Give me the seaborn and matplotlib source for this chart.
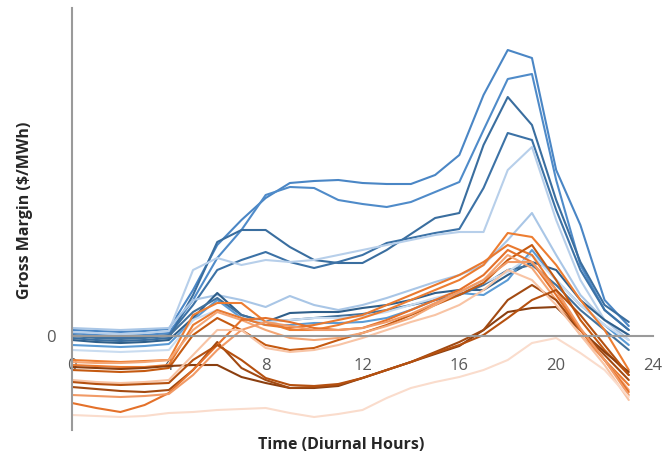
import numpy as np
import pandas as pd
import matplotlib
matplotlib.use("Agg")
import matplotlib.pyplot as plt
import seaborn as sns

hours = list(range(24))

# Blue series (gross margin, arbitrary $/MWh units)
B1 = [6, 5, 4, 5, 7, 46, 91, 116, 138, 153, 155, 156, 153, 152, 152, 161, 181, 241, 286, 278, 166, 111, 36, 10]
B2 = [3, 1, 0, 1, 3, 36, 78, 106, 141, 149, 148, 136, 132, 129, 134, 144, 154, 206, 257, 262, 156, 71, 26, 6]
B3 = [-2, -4, -5, -4, -2, 41, 94, 106, 106, 89, 76, 73, 73, 86, 102, 118, 123, 191, 239, 211, 136, 74, 31, 14]
B4 = [1, -1, -2, -1, 1, 31, 66, 76, 84, 74, 68, 74, 81, 93, 98, 103, 107, 148, 203, 196, 126, 66, 26, 6]
L1 = [4, 3, 2, 3, 5, 66, 78, 71, 76, 74, 76, 81, 86, 91, 96, 101, 104, 104, 166, 189, 116, 56, 16, 1]
L2 = [8, 7, 6, 7, 8, 36, 41, 36, 29, 40, 31, 26, 31, 38, 46, 54, 61, 71, 96, 123, 81, 41, 16, -4]
B5 = [-4, -6, -7, -6, -4, 18, 43, 21, 14, 23, 24, 24, 28, 31, 36, 43, 46, 46, 61, 74, 66, 36, 16, 1]
B6 = [-9, -10, -11, -10, -8, 16, 36, 18, 11, 11, 13, 13, 14, 18, 26, 36, 43, 41, 56, 86, 56, 31, 11, -9]
B7 = [0, -2, -3, -2, 0, 24, 38, 21, 14, 16, 18, 20, 22, 26, 31, 36, 41, 51, 66, 71, 51, 26, 6, -14]
L3 = [-14, -15, -16, -15, -14, 16, 26, 18, 14, 16, 18, 18, 20, 24, 31, 38, 44, 53, 64, 81, 56, 31, 11, -4]

# Orange series
O1 = [-24, -25, -26, -25, -24, 21, 33, 33, 14, 6, 6, 11, 18, 26, 36, 46, 56, 71, 103, 99, 71, 36, 6, -34]
O2 = [-29, -30, -31, -31, -29, 11, 26, 18, 11, 8, 11, 16, 21, 31, 41, 51, 61, 74, 91, 81, 46, 6, -24, -49]
O3 = [-34, -35, -36, -35, -32, 1, 18, 6, -9, -14, -12, -4, 3, 11, 21, 31, 41, 53, 76, 91, 56, 16, -14, -39]
O4 = [-26, -27, -27, -26, -24, 6, 24, 16, 6, -2, -4, -2, 3, 10, 18, 31, 44, 56, 81, 68, 36, 1, -24, -54]
O5 = [-31, -32, -33, -32, -30, -29, -29, -41, -47, -52, -52, -50, -42, -34, -26, -18, -10, 6, 24, 28, 29, 6, -16, -36]
O6 = [-51, -53, -55, -56, -54, -34, -6, -32, -44, -52, -51, -49, -42, -34, -26, -16, -6, 6, 36, 51, 36, 6, -19, -44]
O7 = [-67, -72, -76, -69, -57, -34, -9, 16, 18, 14, 8, 6, 8, 16, 26, 36, 46, 61, 86, 74, 41, 6, -24, -56]
O8 = [-59, -60, -61, -60, -58, -39, -14, 6, 14, 10, 6, 6, 8, 14, 22, 33, 44, 56, 74, 74, 46, 8, -24, -59]
O9 = [-44, -46, -47, -46, -44, -19, 6, 6, -12, -16, -14, -9, -2, 6, 14, 21, 31, 46, 66, 56, 31, 1, -29, -64]
O10 = [-79, -80, -81, -80, -77, -76, -74, -73, -72, -77, -81, -78, -74, -62, -52, -46, -41, -34, -24, -7, -2, -17, -34, -61]
O11 = [-46, -48, -49, -48, -47, -24, -9, -24, -42, -49, -50, -48, -42, -34, -26, -17, -9, 1, 18, 36, 46, 21, -9, -39]

x_ticks = [0, 4, 8, 12, 16, 20, 24]
y_ticks = [0]
y_tick_labels = ["0"]

series = {
    "B1": B1, "B2": B2, "B3": B3, "B4": B4, "L1": L1, "L2": L2, "B5": B5,
    "B6": B6, "B7": B7, "L3": L3,
    "O1": O1, "O2": O2, "O3": O3, "O4": O4, "O5": O5, "O6": O6, "O7": O7,
    "O8": O8, "O9": O9, "O10": O10, "O11": O11,
}
palette = {
    "B1": "#4a86c5", "B2": "#4f8bc9", "B3": "#3a6e9f", "B4": "#3c72a6",
    "L1": "#b7cfea", "L2": "#a9c6e6", "B5": "#2f5f8a", "B6": "#5b9bd5",
    "B7": "#41719c", "L3": "#c9dcf0",
    "O1": "#ed7d31", "O2": "#e9792f", "O3": "#c55a11", "O4": "#f4a675",
    "O5": "#8b3f10", "O6": "#a24a12", "O7": "#e4712a", "O8": "#f19a66",
    "O9": "#f8c4a5", "O10": "#fadccc", "O11": "#b5500f",
}

df = pd.DataFrame(
    [(name, h, v) for name, vals in series.items() for h, v in zip(hours, vals)],
    columns=["series", "hour", "value"],
)

sns.set_style("white")
plt.rcParams["font.family"] = ["Open Sans", "DejaVu Sans"]

fig = plt.figure(figsize=(6.66, 4.63), dpi=100)
ax = fig.add_axes([72 / 666, 33 / 463, 581 / 666, 422 / 463])

sns.lineplot(data=df, x="hour", y="value", hue="series", palette=palette,
             legend=False, linewidth=1.5, ax=ax, sort=True)

ax.set_xlim(0, 24)
ax.set_ylim(-94, 328)
ax.set_xticks(x_ticks)
ax.set_xticklabels([str(t) for t in x_ticks])
ax.set_yticks(y_ticks)
ax.set_yticklabels(y_tick_labels)
ax.tick_params(axis="x", length=0, pad=16, labelsize=12, labelcolor="#595959")
ax.tick_params(axis="y", length=0, pad=12, labelsize=12, labelcolor="#595959")

for s in ["top", "right"]:
    ax.spines[s].set_visible(False)
ax.spines["bottom"].set_position(("data", 0))
ax.spines["bottom"].set_color("#9a9a9a")
ax.spines["bottom"].set_linewidth(1.5)
ax.spines["left"].set_color("#9a9a9a")
ax.spines["left"].set_linewidth(1.5)
ax.set_zorder(1)

ax.set_xlabel("")
ax.set_ylabel("")
fig.text(341 / 666, 1 - 445 / 463, "Time (Diurnal Hours)", ha="center", va="center",
         fontsize=11.5, fontweight="bold", color="#262626")
fig.text(25 / 666, 1 - 210 / 463, "Gross Margin ($/MWh)", ha="center", va="center",
         rotation=90, fontsize=11.5, fontweight="bold", color="#262626")

fig.savefig("out.png", dpi=100)
